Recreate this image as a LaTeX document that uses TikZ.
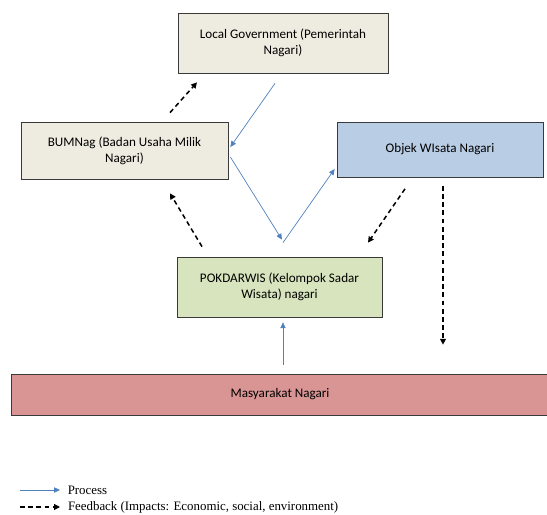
\documentclass[tikz,border=0pt]{standalone}
\usepackage{fontspec}
\setmainfont{Liberation Serif}
\newfontfamily\boxfont{Carlito}
\usepackage{tikz}
\usetikzlibrary{calc}
\usetikzlibrary{arrows.meta}

\definecolor{govfill}{HTML}{EEECE1}
\definecolor{objfill}{HTML}{B9CDE5}
\definecolor{pokfill}{HTML}{D7E4BD}
\definecolor{masfill}{HTML}{D99594}
\definecolor{procblue}{HTML}{4F81BD}
\definecolor{boxline}{HTML}{3A3A3A}

\begin{document}
\begin{tikzpicture}[x=0.03cm, y=-0.03cm,
    box/.style={rectangle, draw=boxline, line width=0.6pt, align=center,
                font=\boxfont\fontsize{11.2}{13.5}\selectfont, inner sep=0pt},
    process/.style={draw=procblue, line width=0.6pt, -{Triangle[length=5pt, width=4.5pt]}},
    feedback/.style={draw=black, line width=1.3pt, dash pattern=on 4pt off 3pt,
                     -{Triangle[length=5pt, width=5pt]}},
    legendtext/.style={right=3pt, text=black, font=\fontsize{11}{13}\selectfont}]
            \useasboundingbox (0, 0) rectangle (547, 515);
            % boxes
            \node[box, fill=govfill, minimum width=6.3cm, minimum height=1.8cm] (gov) at (283, 43) {Local Government (Pemerintah\\Nagari)};
            \node[box, fill=govfill, minimum width=6.21cm, minimum height=1.71cm] (bum) at (124.5, 150.5) {BUMNag (Badan Usaha Milik\\Nagari)};
            \node[box, fill=objfill, minimum width=6.18cm, minimum height=1.65cm] (obj) at (440, 149.5) {Objek WIsata Nagari};
            \node[box, fill=pokfill, minimum width=6.15cm, minimum height=1.8cm] (pok) at (279.5, 287) {POKDARWIS (Kelompok Sadar\\Wisata) nagari};
            \node[box, fill=masfill, minimum width=16.14cm, minimum height=1.23cm] (mas) at (280, 394.5) {Masyarakat Nagari};
            % process
            \draw[process] ([shift={(-8, 10)}]gov.south) -- ([shift={(2, -3.5)}]bum.east);
            \draw[process] ([shift={(2, 6.5)}]bum.east) -- ([shift={(2.5, -17)}]pok.north);
            \draw[process] ([shift={(3.5, -14)}]pok.north) -- ([shift={(-2, 19.5)}]obj.west);
            \draw[process] ([shift={(3, -9)}]mas.north) -- ([shift={(3.5, 5)}]pok.south);
            % feedback
            \draw[feedback] ([shift={(45.5, -9)}]bum.north) -- ([shift={(-86, 9)}]gov.south);
            \draw[feedback] ([shift={(-77.5, -10)}]pok.north) -- ([shift={(45.5, 14)}]bum.south);
            \draw[feedback] ([shift={(-35, 11.5)}]obj.south) -- ([shift={(88.5, -14)}]pok.north);
            \draw[feedback] ([shift={(3, 8.5)}]obj.south) -- ([shift={(163, -29)}]mas.north);
            % legend
            \coordinate (L1) at (20, 490);
            \coordinate (L2) at (20, 507);
            \draw[process] (L1) -- ++(40, 0) node[legendtext] (lproc) {Process};
            \draw[feedback, line width=1pt] (L2) -- ++(40, 0) node[legendtext] (lfeed) {Feedback (Impacts: Economic, social, environment)};
        \end{tikzpicture}
\end{document}
